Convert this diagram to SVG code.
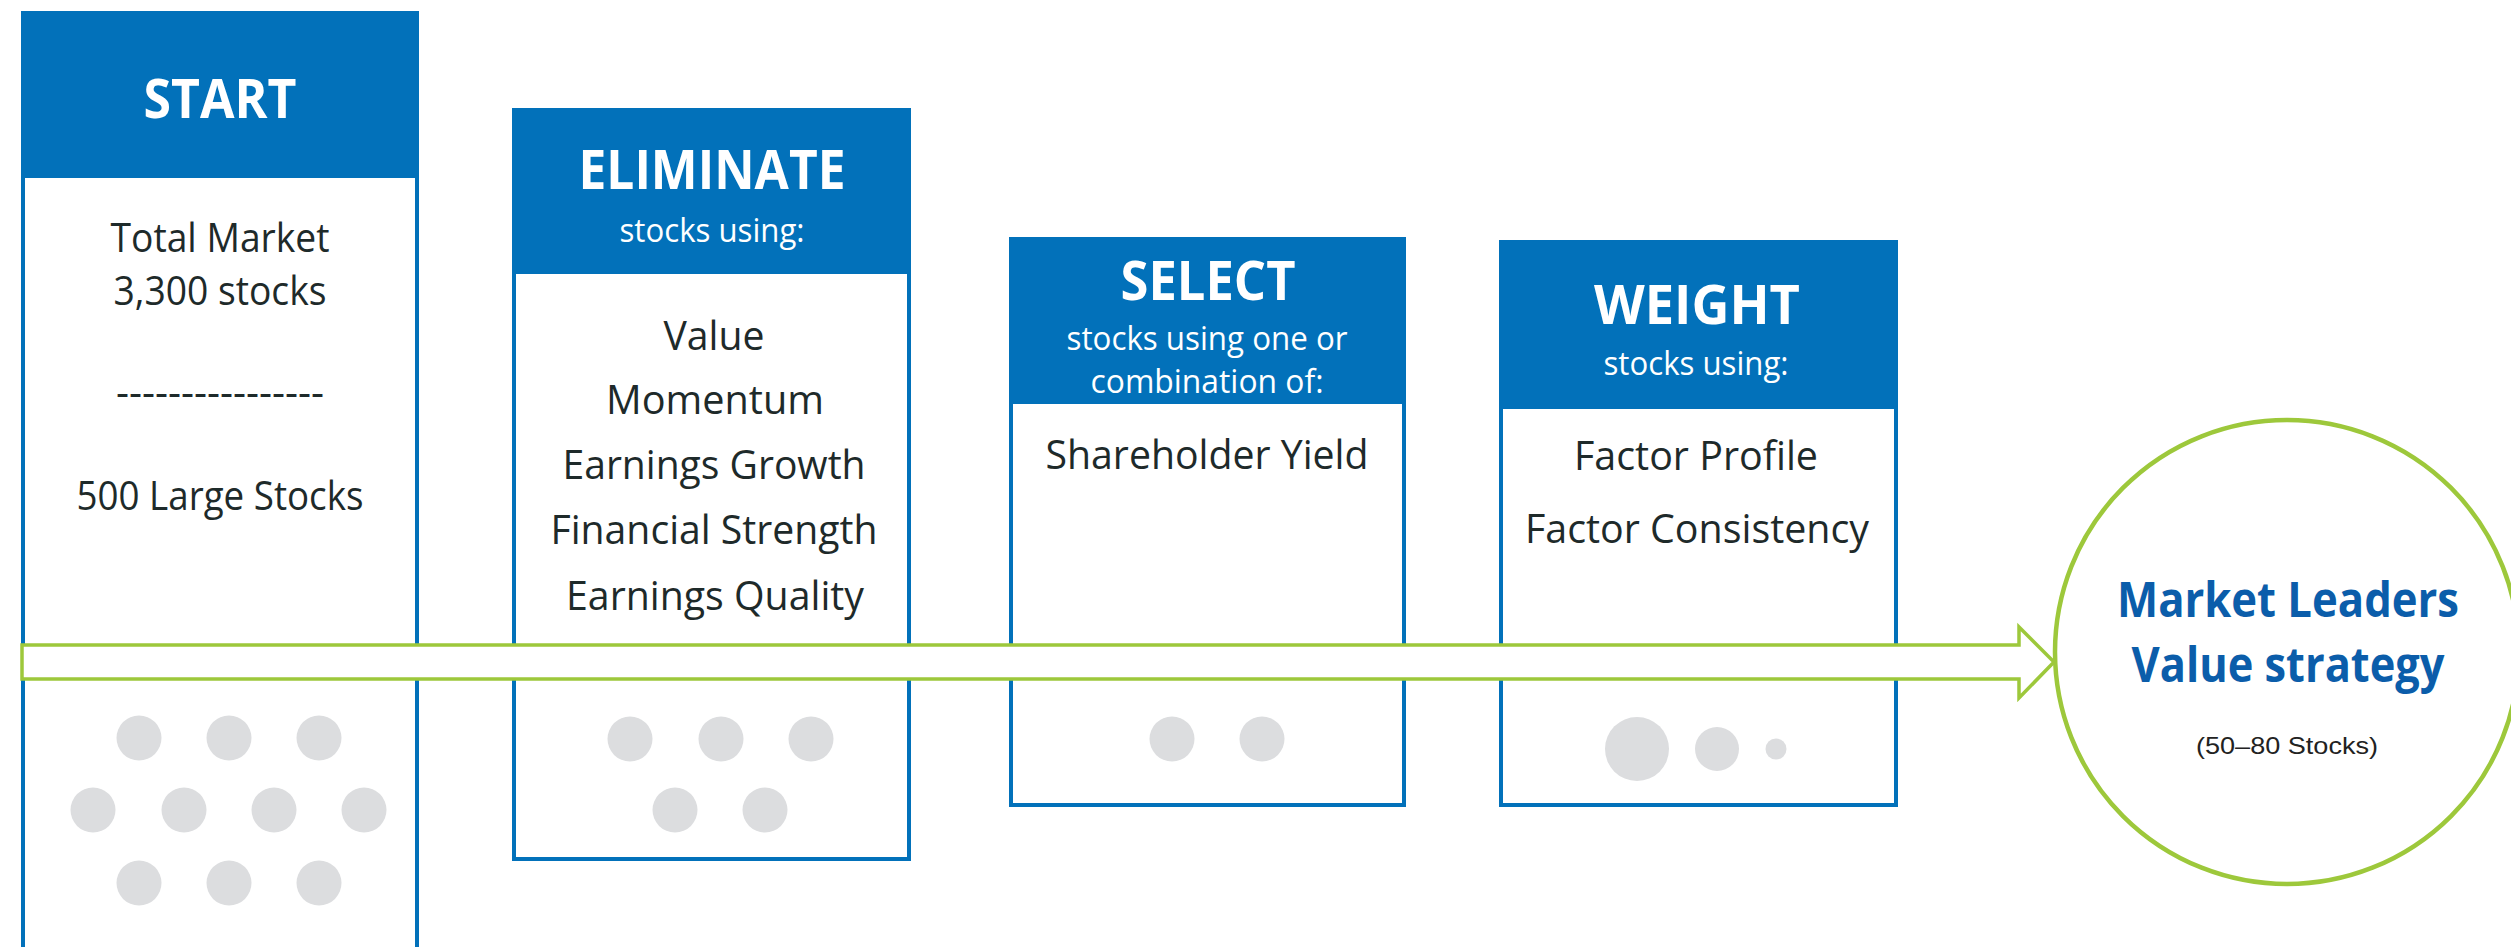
<svg xmlns="http://www.w3.org/2000/svg" width="2511" height="947" viewBox="0 0 2511 947">
<style>
.hdr{fill:#0271BA}
.body{fill:#fff;stroke:#0271BA;stroke-width:4}
.t{font-family:"Open Sans","Noto Sans","Liberation Sans",sans-serif;text-anchor:middle}
.h1{font-size:54px;font-weight:700;fill:#fff}
.h2{font-size:33px;fill:#fff}
.b{font-size:40px;fill:#1e2a2a}
.dot{fill:#DCDDDF}
.arrow{fill:#fff;stroke:#9DC83B;stroke-width:3.5;stroke-linejoin:miter}
.circ{fill:#fff;stroke:#9DC83B;stroke-width:4.5}
.ct{font-size:48px;font-weight:700;fill:#0B5DAA}
.cs{font-family:"Liberation Sans",Arial,sans-serif;font-size:24px;fill:#222;text-anchor:middle}
</style>
<rect width="2511" height="947" fill="#fff"/>

<g id="start">
<rect class="hdr" x="21" y="11" width="398" height="167"/>
<rect class="body" x="23" y="176" width="394" height="790"/>
<text class="t h1" x="220" y="118" textLength="153" lengthAdjust="spacingAndGlyphs">START</text>
<text class="t b" x="220" y="252" textLength="219" lengthAdjust="spacingAndGlyphs">Total Market</text>
<text class="t b" x="220" y="305" textLength="213" lengthAdjust="spacingAndGlyphs">3,300 stocks</text>
<text class="t b" x="220" y="406" textLength="208" lengthAdjust="spacingAndGlyphs">----------------</text>
<text class="t b" x="220" y="510" textLength="287" lengthAdjust="spacingAndGlyphs">500 Large Stocks</text>
<circle class="dot" cx="139" cy="738" r="22.5"/>
<circle class="dot" cx="229" cy="738" r="22.5"/>
<circle class="dot" cx="319" cy="738" r="22.5"/>
<circle class="dot" cx="93" cy="810" r="22.5"/>
<circle class="dot" cx="184" cy="810" r="22.5"/>
<circle class="dot" cx="274" cy="810" r="22.5"/>
<circle class="dot" cx="364" cy="810" r="22.5"/>
<circle class="dot" cx="139" cy="883" r="22.5"/>
<circle class="dot" cx="229" cy="883" r="22.5"/>
<circle class="dot" cx="319" cy="883" r="22.5"/>
</g>

<g id="eliminate">
<rect class="hdr" x="512" y="108" width="399" height="166"/>
<rect class="body" x="514" y="272" width="395" height="587"/>
<text class="t h1" x="712" y="189" textLength="267" lengthAdjust="spacingAndGlyphs">ELIMINATE</text>
<text class="t h2" x="712" y="242" textLength="185" lengthAdjust="spacingAndGlyphs">stocks using:</text>
<text class="t b" x="714" y="350" textLength="101" lengthAdjust="spacingAndGlyphs">Value</text>
<text class="t b" x="715" y="414" textLength="218" lengthAdjust="spacingAndGlyphs">Momentum</text>
<text class="t b" x="714" y="479" textLength="303" lengthAdjust="spacingAndGlyphs">Earnings Growth</text>
<text class="t b" x="714" y="544" textLength="327" lengthAdjust="spacingAndGlyphs">Financial Strength</text>
<text class="t b" x="715" y="610" textLength="298" lengthAdjust="spacingAndGlyphs">Earnings Quality</text>
<circle class="dot" cx="630" cy="739" r="22.5"/>
<circle class="dot" cx="721" cy="739" r="22.5"/>
<circle class="dot" cx="811" cy="739" r="22.5"/>
<circle class="dot" cx="675" cy="810" r="22.5"/>
<circle class="dot" cx="765" cy="810" r="22.5"/>
</g>

<g id="select">
<rect class="hdr" x="1009" y="237" width="397" height="167"/>
<rect class="body" x="1011" y="402" width="393" height="403"/>
<text class="t h1" x="1208" y="300" textLength="175" lengthAdjust="spacingAndGlyphs">SELECT</text>
<text class="t h2" x="1207" y="350" textLength="281" lengthAdjust="spacingAndGlyphs">stocks using one or</text>
<text class="t h2" x="1207" y="393" textLength="233" lengthAdjust="spacingAndGlyphs">combination of:</text>
<text class="t b" x="1207" y="469" textLength="323" lengthAdjust="spacingAndGlyphs">Shareholder Yield</text>
<circle class="dot" cx="1172" cy="739" r="22.5"/>
<circle class="dot" cx="1262" cy="739" r="22.5"/>
</g>

<g id="weight">
<rect class="hdr" x="1499" y="240" width="399" height="169"/>
<rect class="body" x="1501" y="407" width="395" height="398"/>
<text class="t h1" x="1697" y="324" textLength="206" lengthAdjust="spacingAndGlyphs">WEIGHT</text>
<text class="t h2" x="1696" y="375" textLength="185" lengthAdjust="spacingAndGlyphs">stocks using:</text>
<text class="t b" x="1696" y="470" textLength="244" lengthAdjust="spacingAndGlyphs">Factor Profile</text>
<text class="t b" x="1697" y="543" textLength="344" lengthAdjust="spacingAndGlyphs">Factor Consistency</text>
<circle class="dot" cx="1637" cy="749" r="32"/>
<circle class="dot" cx="1717" cy="749" r="22"/>
<circle class="dot" cx="1776" cy="749" r="10.5"/>
</g>

<g id="connectors">
<polygon class="arrow" points="22,645 2019,645 2019,627 2054,662 2019,698 2019,679 22,679"/>
</g>

<g id="result">
<circle class="circ" cx="2287" cy="652" r="232"/>
<text class="t ct" x="2288" y="617" textLength="342" lengthAdjust="spacingAndGlyphs">Market Leaders</text>
<text class="t ct" x="2288" y="682" textLength="313" lengthAdjust="spacingAndGlyphs">Value strategy</text>
<text class="cs" x="2287" y="754" textLength="182" lengthAdjust="spacingAndGlyphs">(50–80 Stocks)</text>
</g>
</svg>
